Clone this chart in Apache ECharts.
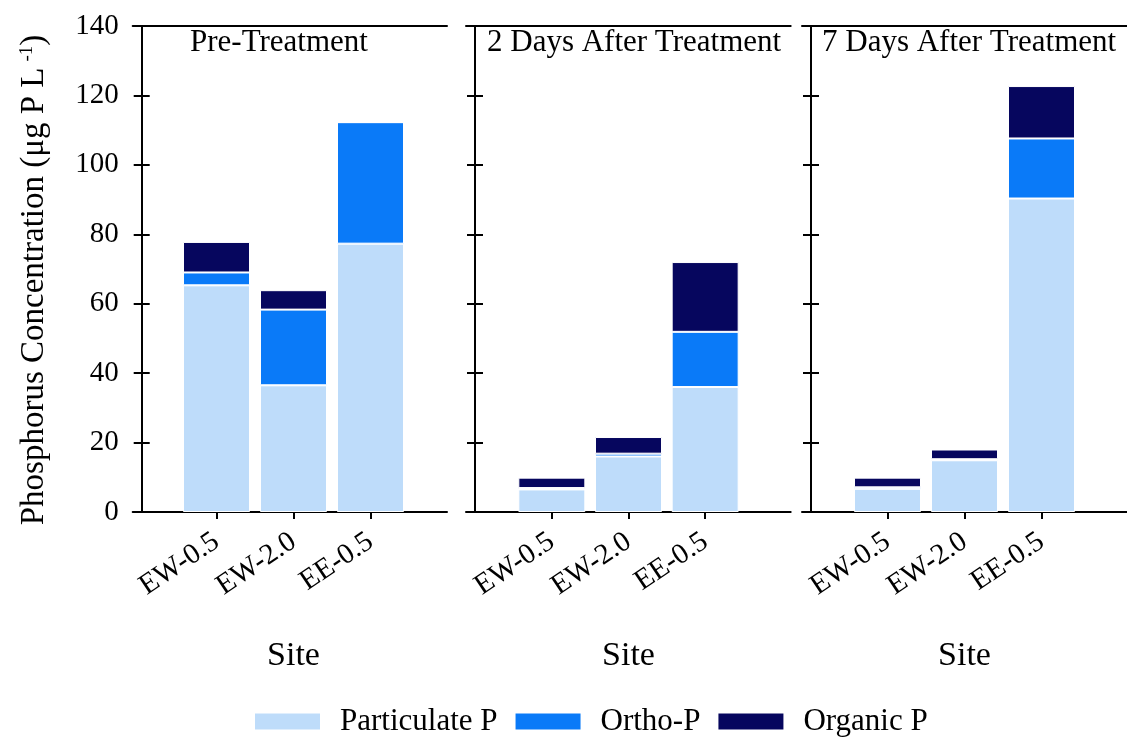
<!DOCTYPE html>
<html>
<head>
<meta charset="utf-8">
<script src="https://cdn.jsdelivr.net/npm/echarts@6/dist/echarts.min.js"></script>
<style>
html,body{margin:0;padding:0;background:#fff;}
#chart{width:1127px;height:744px;}
</style>
</head>
<body>
<div id="chart"></div>
<script>
// ---- data ----
const categories = ['EW-0.5', 'EW-2.0', 'EE-0.5'];
const panelTitles = ['Pre-Treatment', '2 Days After Treatment', '7 Days After Treatment'];
const seriesNames = ['Particulate P', 'Ortho-P', 'Organic P'];
// values per panel [Pre, 2 days, 7 days], each in category order
const particulateP = [[65.3, 36.5, 77.3], [6.5, 16.0, 36.0], [6.7, 14.9, 90.3]];
const orthoP       = [[3.7, 21.8, 35.0], [0.4, 0.8, 15.9], [0.4, 0.3, 17.3]];
const organicP     = [[8.8, 5.6, 0], [3.0, 4.8, 20.1], [2.8, 2.8, 15.1]];
const yTicks = [0, 20, 40, 60, 80, 100, 120, 140];

// ---- layout / style ----
const FONT = 'Liberation Serif';
const colors = ['#BEDCFA', '#0A7AF8', '#06065E'];
const boxes = [ {L:141.7, R:438}, {L:475, R:781.7}, {L:811, R:1118} ];
const barGrids = [ {left:178, width:231}, {left:513.5, width:230}, {left:849, width:231} ];
const titleLeft = [190, 487, 822];
const TOP = 26, HEIGHT = 486, EXT = 9;
const yMin = yTicks[0], yMax = yTicks[yTicks.length - 1], yStep = yTicks[1] - yTicks[0];
const valuesByName = [particulateP, orthoP, organicP];

const grid = [], xAxis = [], yAxis = [], series = [], title = [];
boxes.forEach((b, p) => {
  // frame grid
  const fg = grid.length;
  grid.push({left: b.L - EXT, width: (b.R - b.L) + 2 * EXT, top: TOP, height: HEIGHT});
  ['bottom', 'top'].forEach(pos => xAxis.push({
    gridIndex: fg, type: 'value', min: 0, max: 1, position: pos,
    axisLine: {show: true, onZero: false, lineStyle: {color: '#000', width: 2}},
    axisTick: {show: false}, axisLabel: {show: false}, splitLine: {show: false}
  }));
  yAxis.push({
    gridIndex: fg, type: 'value', min: yMin, max: yMax, interval: yStep, position: 'left', offset: -EXT,
    axisLine: {show: true, lineStyle: {color: '#000', width: 2}},
    axisTick: {show: true, inside: false, length: 8, lineStyle: {color: '#000', width: 2}},
    axisLabel: {show: p === 0, fontFamily: FONT, fontSize: 29, color: '#000', margin: 23},
    splitLine: {show: false},
    name: p === 0 ? 'Phosphorus Concentration (μg P L{sup|-1})' : '',
    nameLocation: 'middle', nameRotate: 90, nameGap: 90,
    nameTextStyle: {fontFamily: FONT, fontSize: 33, color: '#000', padding: [0, 22, 0, 0],
      rich: {sup: {fontFamily: FONT, fontSize: 19, color: '#000', padding: [0, 0, 15, 6]}}}
  });
  yAxis.push({
    gridIndex: fg, type: 'value', min: yMin, max: yMax, interval: yStep, position: 'right', offset: -EXT,
    axisLine: {show: true, lineStyle: {color: '#000', width: 2}},
    axisTick: {show: true, inside: false, length: 8, lineStyle: {color: '#000', width: 2}},
    axisLabel: {show: false}, splitLine: {show: false}
  });
  // bar grid
  const bg = grid.length;
  grid.push({left: barGrids[p].left, width: barGrids[p].width, top: TOP, height: HEIGHT});
  const xi = xAxis.length;
  xAxis.push({
    gridIndex: bg, type: 'category', data: categories,
    axisLine: {show: false},
    axisTick: {show: true, alignWithLabel: true, length: 7, lineStyle: {color: '#000', width: 2}},
    axisLabel: {fontFamily: FONT, fontSize: 29, color: '#000', rotate: 34, margin: 27, interval: 0},
    name: 'Site', nameLocation: 'middle', nameGap: 127,
    nameTextStyle: {fontFamily: FONT, fontSize: 34, color: '#000'}
  });
  const yi = yAxis.length;
  yAxis.push({gridIndex: bg, type: 'value', min: yMin, max: yMax, interval: yStep, show: false});
  seriesNames.forEach((nm, s) => series.push({
    type: 'bar', name: nm, stack: 'p' + p, xAxisIndex: xi, yAxisIndex: yi,
    data: valuesByName[s][p], barWidth: 67,
    itemStyle: {color: colors[s], borderColor: '#fff', borderWidth: 1}
  }));
  title.push({text: panelTitles[p], left: titleLeft[p], top: 27, padding: 0,
    textStyle: {fontFamily: FONT, fontSize: 31, fontWeight: 'normal', color: '#000'}});
});

const chart = echarts.init(document.getElementById('chart'), null, {renderer: 'canvas'});
chart.setOption({
  animation: false,
  backgroundColor: '#fff',
  title, grid, xAxis, yAxis, series,
  legend: {
    data: seriesNames, left: 253, top: 706, icon: 'rect', padding: 0,
    itemWidth: 67, itemHeight: 18, itemGap: 16,
    textStyle: {fontFamily: FONT, fontSize: 31, color: '#000', padding: [0, 0, 0, 14]}
  }
});
</script>
</body>
</html>
